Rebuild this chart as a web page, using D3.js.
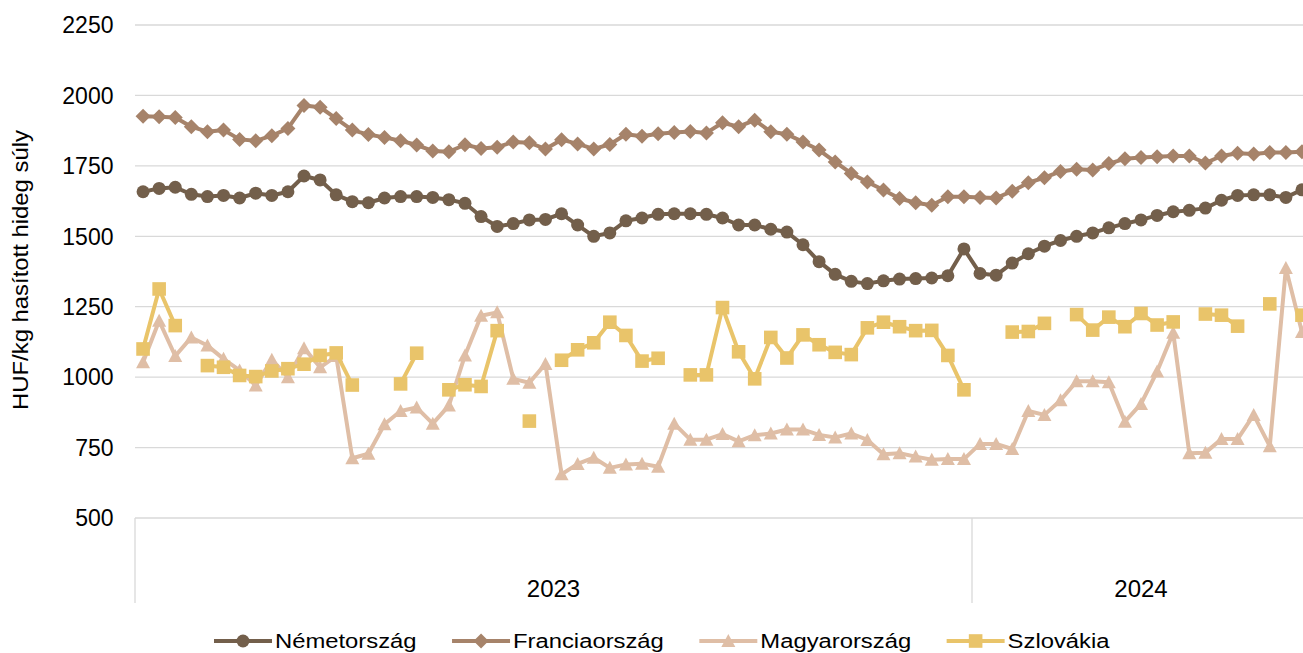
<!DOCTYPE html>
<html><head><meta charset="utf-8">
<script src="https://cdn.jsdelivr.net/npm/d3@7"></script>
<style>
body{margin:0;background:#fff;overflow:hidden}
svg{display:block}
text{font-family:"Liberation Sans",Arial,sans-serif;fill:#000}
</style>
</head><body>
<svg id="chart" width="1303" height="653"></svg>
<script>
// ---- data ----
const years = ["2023", "2024"];
const weeksPerYear = [52, 21];
const yTicks = [500, 750, 1000, 1250, 1500, 1750, 2000, 2250];
const yTitle = "HUF/kg hasított hideg súly";
const seriesNames = ["Németország", "Franciaország", "Magyarország", "Szlovákia"];

const nemetorszag = [
  1658,1670,1674,1649,1641,1645,1636,1653,1645,1658,1714,1700,1647,1623,1619,1636,1641,1641,1638,1630,
  1617,1570,1535,1545,1558,1560,1580,1540,1500,1512,1555,1565,1578,1580,1580,1578,1565,1540,1540,1525,
  1515,1470,1410,1365,1340,1332,1342,1348,1350,1352,1360,1455,
  1368,1362,1405,1438,1465,1485,1500,1512,1530,1545,1558,1574,1587,1592,1600,1628,1645,1647,1647,1638,1665
];
const franciaorszag = [
  1926,1924,1922,1889,1871,1877,1844,1839,1857,1883,1964,1958,1918,1877,1861,1851,1839,1824,1803,1800,
  1825,1812,1816,1835,1832,1810,1843,1828,1810,1826,1862,1855,1864,1868,1872,1867,1903,1889,1912,1871,
  1862,1835,1806,1764,1723,1693,1664,1634,1619,1610,1640,1640,
  1638,1636,1660,1690,1708,1730,1738,1735,1758,1775,1780,1782,1785,1785,1760,1785,1795,1792,1797,1797,1800
];
const magyarorszag = [
  1053,1200,1075,1141,1112,1065,1024,970,1062,1000,1103,1035,1075,712,728,833,880,892,835,899,
  1077,1218,1230,994,980,1047,655,692,714,678,690,693,682,835,778,778,798,772,794,800,
  814,814,795,786,800,777,726,730,718,707,709,709,
  763,763,745,880,866,918,985,985,982,842,905,1020,1158,730,732,780,780,866,755,1387,1160
];
const szlovakia = [
  1100,1313,1183,null,1041,1035,1006,1002,1022,1030,1046,1077,1086,972,null,null,976,1085,null,955,
  973,967,1165,null,844,null,1060,1097,1122,1195,1148,1057,1067,null,1008,1008,1247,1090,994,1141,
  1068,1150,1115,1088,1080,1175,1195,1179,1165,1166,1077,955,
  null,null,1160,1162,1191,null,1222,1167,1213,1179,1226,1185,1196,null,1224,1220,1181,null,1260,null,1220
];

const categories = [];
years.forEach((yr, i) => { for (let w = 1; w <= weeksPerYear[i]; w++) categories.push(yr + "-W" + w); });

// ---- styles ----
const colors = ["#735f4b", "#a6836a", "#dfbea6", "#e9c46a"];
const markers = ["circle", "diamond", "triangle", "square"];
const seriesData = [nemetorszag, franciaorszag, magyarorszag, szlovakia];

// ---- layout ----
const svg = d3.select("#chart");
const plotLeft = 135, plotTop = 25, plotBottom = 518;
const bandW = 837 / 52;
const x = d3.scaleBand().domain(categories).range([plotLeft, plotLeft + bandW * categories.length]).padding(0);
const y = d3.scaleLinear().domain([500, 2250]).range([plotBottom, plotTop]);
const cx = c => x(c) + x.bandwidth() / 2;
const gridColor = "#d9d9d9";
const stretch = 1.19;

// gridlines
svg.append("g").selectAll("line").data(yTicks).join("line")
  .attr("x1", plotLeft).attr("x2", 1303)
  .attr("y1", d => y(d)).attr("y2", d => y(d))
  .attr("stroke", gridColor).attr("stroke-width", 1.3);

// y tick labels
svg.append("g").selectAll("text").data(yTicks).join("text")
  .attr("x", 113.5).attr("y", d => y(d)).attr("dy", "0.36em")
  .attr("text-anchor", "end").style("font-size", "23px")
  .text(d => d);

// y title
const tt = svg.append("text")
  .attr("transform", "translate(28,270) rotate(-90)")
  .attr("text-anchor", "middle").style("font-size", "21.5px")
  .text(yTitle);
tt.attr("textLength", 280).attr("lengthAdjust", "spacingAndGlyphs");

// year groups on x axis
let start = 0;
const yearBounds = years.map((yr, i) => {
  const first = categories[start], last = categories[start + weeksPerYear[i] - 1];
  start += weeksPerYear[i];
  return { yr, x0: x(first), x1: x(last) + x.bandwidth() };
});
svg.append("g").selectAll("line").data(yearBounds).join("line")
  .attr("x1", d => d.x0).attr("x2", d => d.x0)
  .attr("y1", plotBottom).attr("y2", 603)
  .attr("stroke", gridColor).attr("stroke-width", 1.3);
svg.append("g").selectAll("text").data(yearBounds).join("text")
  .attr("x", d => (d.x0 + d.x1) / 2).attr("y", 597)
  .attr("text-anchor", "middle").style("font-size", "24px")
  .text(d => d.yr);

// marker paths
function markerPath(type) {
  if (type === "circle") { const r = 6.5; return `M${-r},0A${r},${r} 0 1,0 ${r},0A${r},${r} 0 1,0 ${-r},0Z`; }
  if (type === "diamond") { const s = 7.5; return `M0,${-s}L${s},0L0,${s}L${-s},0Z`; }
  if (type === "triangle") { return "M0,-7L7,6L-7,6Z"; }
  const h = 6.8; return `M${-h},${-h}H${h}V${h}H${-h}Z`;
}

// series
const line = d3.line().defined(d => d.v != null).x(d => cx(d.c)).y(d => y(d.v));
seriesData.forEach((vals, si) => {
  const pts = vals.map((v, i) => ({ c: categories[i], v }));
  const g = svg.append("g");
  g.append("path").datum(pts).attr("d", line)
    .attr("fill", "none").attr("stroke", colors[si]).attr("stroke-width", 4)
    .attr("stroke-linejoin", "round");
  g.selectAll("path.m").data(pts.filter(d => d.v != null)).join("path")
    .attr("class", "m").attr("d", markerPath(markers[si]))
    .attr("transform", d => `translate(${cx(d.c)},${y(d.v)})`)
    .attr("fill", colors[si]);
});

// legend
const legend = svg.append("g");
let lx = 214;
const ly = 641;
seriesNames.forEach((name, si) => {
  const item = legend.append("g");
  item.append("line").attr("x1", lx).attr("x2", lx + 58).attr("y1", ly).attr("y2", ly)
    .attr("stroke", colors[si]).attr("stroke-width", 4);
  item.append("path").attr("d", markerPath(markers[si]))
    .attr("transform", `translate(${lx + 29},${ly})`).attr("fill", colors[si]);
  const t = item.append("text").attr("x", lx + 61).attr("y", ly).attr("dy", "0.36em")
    .style("font-size", "20px").text(name);
  const w = t.node().getComputedTextLength() * stretch;
  t.attr("textLength", w).attr("lengthAdjust", "spacingAndGlyphs");
  lx += 61 + w + 35.5;
});
</script>
</body></html>
